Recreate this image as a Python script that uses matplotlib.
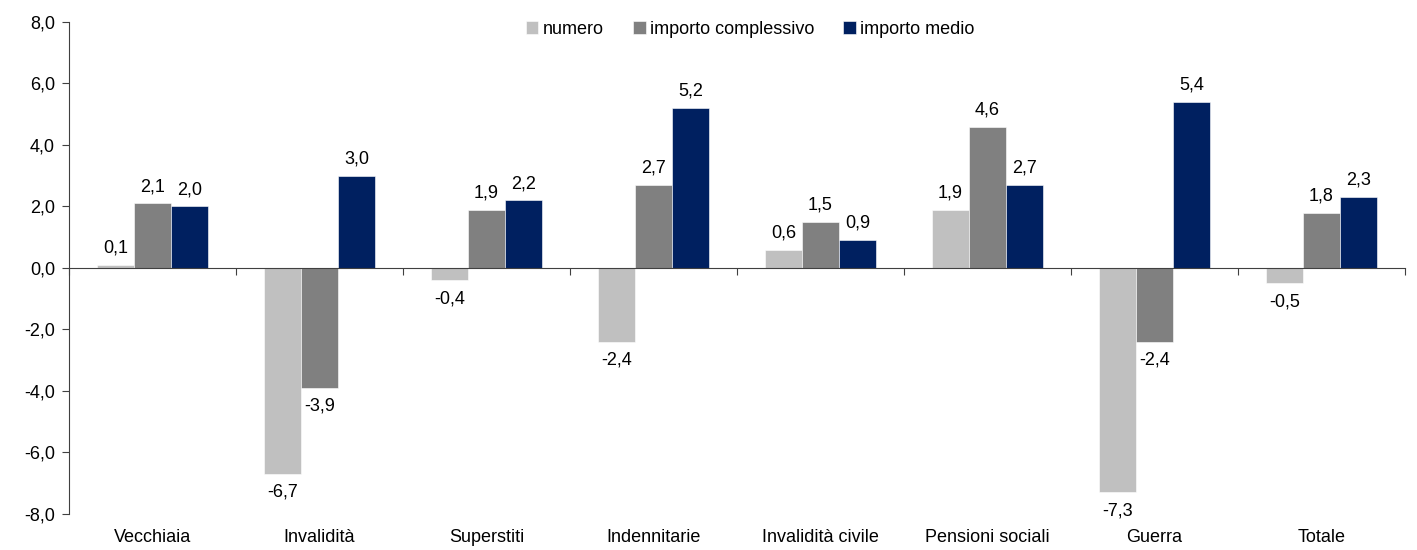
import numpy as np
import matplotlib.pyplot as plt
from matplotlib.ticker import FuncFormatter, FixedLocator

plt.rcParams['font.family'] = ['Liberation Sans', 'DejaVu Sans']

categories = ["Vecchiaia", "Invalidità", "Superstiti", "Indennitarie", "Invalidità civile",
              "Pensioni sociali", "Guerra", "Totale"]
numero = [0.1, -6.7, -0.4, -2.4, 0.6, 1.9, -7.3, -0.5]
importo_complessivo = [2.1, -3.9, 1.9, 2.7, 1.5, 4.6, -2.4, 1.8]
importo_medio = [2.0, 3.0, 2.2, 5.2, 0.9, 2.7, 5.4, 2.3]

series = [("numero", numero, "#C0C0C0"),
          ("importo complessivo", importo_complessivo, "#808080"),
          ("importo medio", importo_medio, "#002060")]

fs = 13

fig = plt.figure(figsize=(14.17, 5.5), dpi=100)
ax = fig.add_axes([0.0487, 0.0655, 0.9428, 0.8945])

x = np.arange(len(categories))
w = 0.222

for i, (name, vals, col) in enumerate(series):
    bars = ax.bar(x + (i - 1) * w, vals, w, color=col, label=name,
                  edgecolor="white", linewidth=0.4, zorder=2)
    for b, v in zip(bars, vals):
        off = 6 if v >= 0 else -7
        ax.annotate(f"{v:.1f}".replace(".", ","),
                    xy=(b.get_x() + b.get_width() / 2, v),
                    xytext=(0, off), textcoords="offset points",
                    ha="center", va="bottom" if v >= 0 else "top", fontsize=fs)

ax.set_xlim(-0.5, len(categories) - 0.5)
ax.set_ylim(-8, 8)
ax.set_yticks(np.arange(-8, 8.1, 2))
ax.yaxis.set_major_formatter(FuncFormatter(lambda v, p: f"{v:.1f}".replace(".", ",")))
ax.tick_params(axis="y", labelsize=fs, length=5, width=0.8, color="#404040", pad=5)

for s in ["top", "right"]:
    ax.spines[s].set_visible(False)
ax.spines["left"].set_color("#404040")
ax.spines["bottom"].set_position(("data", 0))
ax.spines["bottom"].set_color("#404040")
ax.spines["bottom"].set_zorder(3)

ax.xaxis.set_major_locator(FixedLocator(np.arange(-0.5, len(categories), 1.0)))
ax.tick_params(axis="x", labelbottom=False, length=5, width=0.8, color="#404040", direction="out")

sec = ax.secondary_xaxis("bottom")
sec.set_xticks(x)
sec.set_xticklabels(categories)
sec.tick_params(length=0, labelsize=fs, pad=11)
sec.spines["bottom"].set_visible(False)

ax.legend(loc="upper center", bbox_to_anchor=(0.51, 1.035), ncol=3, frameon=False,
          fontsize=fs, handlelength=0.7, handleheight=0.7, handletextpad=0.25,
          columnspacing=1.6)

fig.savefig("out.png", dpi=100)
